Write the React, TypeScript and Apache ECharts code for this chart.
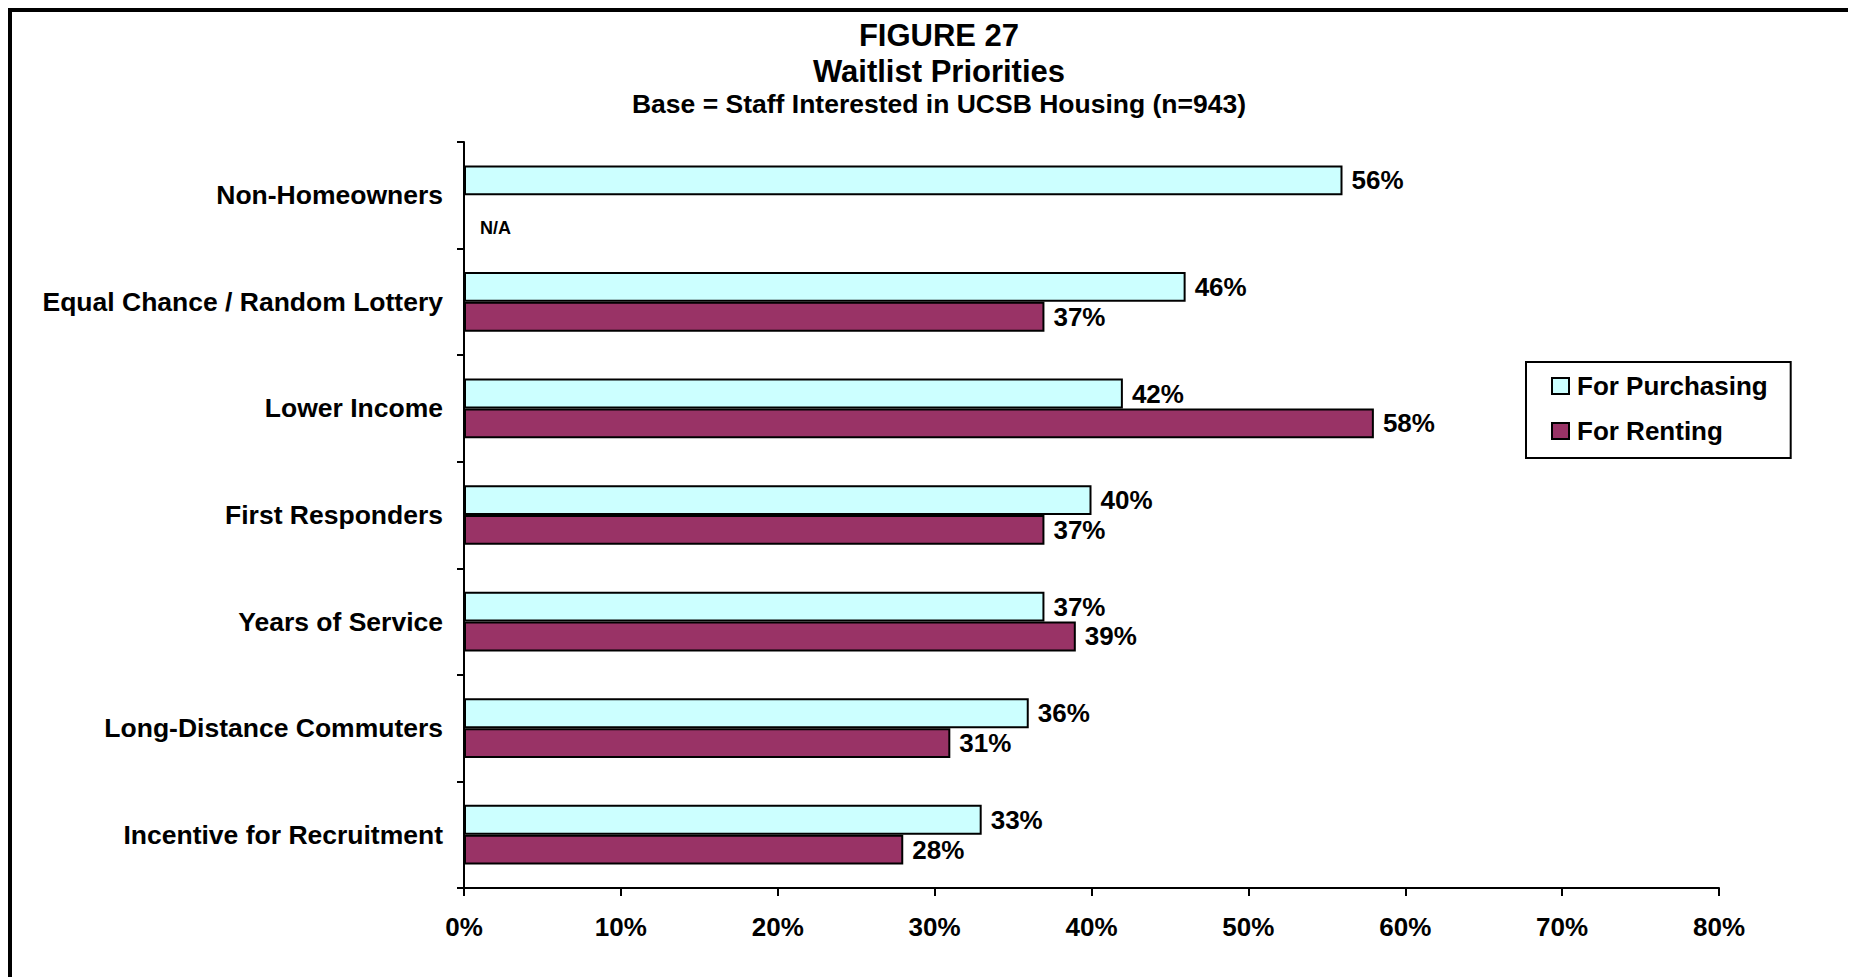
import React, { useEffect, useRef } from "react";
import * as echarts from "echarts";

const categories = [
  "Non-Homeowners",
  "Equal Chance / Random Lottery",
  "Lower Income",
  "First Responders",
  "Years of Service",
  "Long-Distance Commuters",
  "Incentive for Recruitment",
];
const purchasing = [56, 46, 42, 40, 37, 36, 33];
const renting: (number | null)[] = [null, 37, 58, 37, 39, 31, 28];
const seriesNames = ["For Purchasing", "For Renting"];
const titleLines = ["FIGURE 27", "Waitlist Priorities", "Base = Staff Interested in UCSB Housing (n=943)"];
const xTicks = { min: 0, max: 80, interval: 10 };

const FONT = "'Liberation Sans', Arial, sans-serif";

export default function App() {
  const ref = useRef<HTMLDivElement>(null);
  useEffect(() => {
    document.documentElement.style.overflow = "hidden";
    document.body.style.overflow = "hidden";
    const chart = echarts.init(ref.current!, undefined, { renderer: "svg" });
    const labelBase = {
      show: true,
      position: "right",
      distance: 9,
      formatter: "{c}%",
      fontSize: 26,
      fontWeight: "bold",
      fontFamily: FONT,
      color: "#000",
    };
    const rentData = renting.map((v) =>
      v === null
        ? {
            value: 0,
            itemStyle: { color: "rgba(0,0,0,0)", borderWidth: 0 },
            label: { formatter: "N/A", fontSize: 18, distance: 16, offset: [0, 18] },
          }
        : v
    );
    chart.setOption({
      animation: false,
      backgroundColor: "#fff",
      textStyle: { fontFamily: FONT },
      graphic: [
        {
          type: "text",
          x: 931,
          y: 27,
          style: { text: titleLines[0], font: `bold 31px ${FONT}`, fill: "#000", align: "center", verticalAlign: "middle" },
        },
        {
          type: "text",
          x: 931,
          y: 63,
          style: { text: titleLines[1], font: `bold 31px ${FONT}`, fill: "#000", align: "center", verticalAlign: "middle" },
        },
        {
          type: "text",
          x: 931,
          y: 96,
          style: { text: titleLines[2], font: `bold 26.5px ${FONT}`, fill: "#000", align: "center", verticalAlign: "middle" },
        },
      ],
      legend: {
        orient: "vertical",
        left: 1518,
        top: 354,
        padding: [9, 23, 12, 25],
        borderColor: "#000",
        borderWidth: 2,
        itemGap: 15,
        itemWidth: 17,
        itemHeight: 16,
        icon: "rect",
        textStyle: { fontSize: 26, fontWeight: "bold", fontFamily: FONT, color: "#000", lineHeight: 30, padding: [0, 0, 0, 3] },
        data: seriesNames,
      },
      grid: { left: 456, top: 134, width: 1255, height: 746, containLabel: false },
      xAxis: {
        type: "value",
        min: xTicks.min,
        max: xTicks.max,
        interval: xTicks.interval,
        axisLine: { show: true, lineStyle: { color: "#000", width: 2 } },
        axisTick: { show: true, length: 8, lineStyle: { color: "#000", width: 2 } },
        splitLine: { show: false },
        axisLabel: {
          formatter: "{value}%",
          fontSize: 26,
          fontWeight: "bold",
          fontFamily: FONT,
          color: "#000",
          margin: 26,
        },
      },
      yAxis: {
        type: "category",
        inverse: true,
        data: categories,
        axisLine: { show: true, lineStyle: { color: "#000", width: 2 } },
        axisTick: { show: true, length: 7, lineStyle: { color: "#000", width: 2 } },
        axisLabel: {
          fontSize: 26.5,
          fontWeight: "bold",
          fontFamily: FONT,
          color: "#000",
          margin: 21,
        },
      },
      series: [
        {
          name: seriesNames[0],
          type: "bar",
          data: purchasing,
          barGap: "0%",
          barCategoryGap: "44%",
          itemStyle: { color: "#CCFFFF", borderColor: "#000", borderWidth: 2 },
          label: labelBase,
        },
        {
          name: seriesNames[1],
          type: "bar",
          data: rentData,
          barGap: "0%",
          barCategoryGap: "44%",
          itemStyle: { color: "#993366", borderColor: "#000", borderWidth: 2 },
          label: labelBase,
        },
      ],
    });
    return () => chart.dispose();
  }, []);
  return (
    <div style={{ position: "relative", width: 1848, height: 969 }}>
      <div ref={ref} style={{ position: "absolute", left: 0, top: 0, width: 1848, height: 969 }} />
      <div
        style={{
          position: "absolute",
          left: 0,
          top: 0,
          width: 1848,
          height: 969,
          borderLeft: "4px solid #000",
          borderTop: "4px solid #000",
          boxSizing: "border-box",
          pointerEvents: "none",
        }}
      />
    </div>
  );
}
